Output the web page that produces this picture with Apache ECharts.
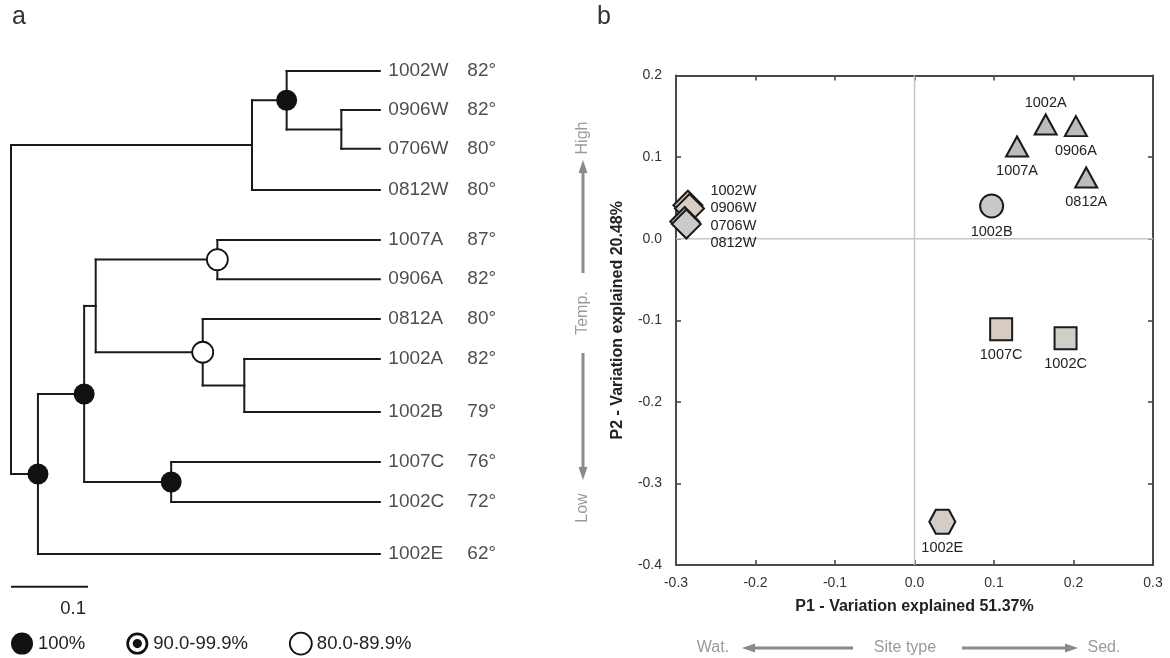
<!DOCTYPE html>
<html>
<head>
<meta charset="utf-8">
<script src="https://cdn.jsdelivr.net/npm/echarts@6/dist/echarts.min.js"></script>
<style>
html,body{margin:0;padding:0;background:#fff;}
#chart{width:1170px;height:658px;}
</style>
</head>
<body>
<div id="chart"></div>
<script>
// ---------- Panel a: tree data ----------
const leafNames = ['1002W','0906W','0706W','0812W','1007A','0906A','0812A','1002A','1002B','1007C','1002C','1002E'];
const leafTemps = ['82°','82°','80°','80°','87°','82°','80°','82°','79°','76°','72°','62°'];
const leafRows  = [0, 0.99, 1.97, 3.01, 4.28, 5.27, 6.28, 7.29, 8.63, 9.9, 10.91, 12.23];
const tipDepth = 0.479;
const nodeNames    = ['root','W','W1','W2','B','AC','A','A1','A2','A3','C'];
const nodeDepths   = [0, 0.313, 0.358, 0.429, 0.035, 0.095, 0.110, 0.268, 0.249, 0.303, 0.208];
const nodeChildren = [['W','B'],['W1','0812W'],['1002W','W2'],['0906W','0706W'],['AC','1002E'],['A','C'],['A1','A2'],['1007A','0906A'],['0812A','A3'],['1002A','1002B'],['1007C','1002C']];
const nodeSupport  = ['','','100%','','100%','100%','','80.0-89.9%','80.0-89.9%','','100%'];
const supportClasses = ['100%','90.0-99.9%','80.0-89.9%'];
const scaleBarLength = 0.1;
const scaleBarLabel = '0.1';

// ---------- Panel b: PCA data ----------
const pcaNames = ['1002W','0906W','0706W','0812W','1007A','1002A','0906A','0812A','1002B','1007C','1002C','1002E'];
const pcaP1    = [-0.285,-0.283,-0.289,-0.287, 0.129, 0.165, 0.203, 0.216, 0.097, 0.109, 0.190, 0.035];
const pcaP2    = [ 0.041, 0.037, 0.021, 0.018, 0.113, 0.140, 0.138, 0.075, 0.040,-0.111,-0.122,-0.347];
const pcaSite  = ['W','W','W','W','A','A','A','A','B','C','C','E'];
const xTicks = [-0.3,-0.2,-0.1,0,0.1,0.2,0.3];
const yTicks = [-0.4,-0.3,-0.2,-0.1,0,0.1,0.2];
const xTitle = 'P1 - Variation explained 51.37%';
const yTitle = 'P2 - Variation explained 20.48%';

// ---------- styles ----------
const FONT = '"Liberation Sans", Arial, Helvetica, sans-serif';
const INK = '#1a1a1a';
const hexPath = 'path://M-1,0 L-0.5,-0.866 L0.5,-0.866 L1,0 L0.5,0.866 L-0.5,0.866 Z';
const bullseye = 'path://M0,-10 A10,10 0 1,1 0,10 A10,10 0 1,1 0,-10 Z M0,-7.6 A7.6,7.6 0 1,0 0,7.6 A7.6,7.6 0 1,0 0,-7.6 Z M0,-4.2 A4.2,4.2 0 1,1 0,4.2 A4.2,4.2 0 1,1 0,-4.2 Z';
const siteStyle = {
  W: {symbol:'diamond', size:[29,29]},
  A: {symbol:'triangle', size:[22,20]},
  B: {symbol:'circle', size:23},
  C: {symbol:'rect', size:22},
  E: {symbol:hexPath, size:[26,24]}
};
const fillByName = {
  '1002W':'#d8cec5','0906W':'#d8cec5','0706W':'#cacaca','0812W':'#cacaca',
  '1007A':'#bcbcbc','1002A':'#bcbcbc','0906A':'#bcbcbc','0812A':'#bcbcbc',
  '1002B':'#c9c9c9','1007C':'#d6ccc4','1002C':'#cfcfc8','1002E':'#d3ccc7'
};

// ---------- tree layout from data ----------
const depthOf = {}, rowOf = {};
leafNames.forEach((n,i)=>{depthOf[n]=tipDepth; rowOf[n]=leafRows[i];});
nodeNames.forEach((n,i)=>{depthOf[n]=nodeDepths[i];});
function rowFor(name){
  if (rowOf[name] !== undefined) return rowOf[name];
  const idx = nodeNames.indexOf(name);
  const ch = nodeChildren[idx];
  const r = (rowFor(ch[0]) + rowFor(ch[ch.length-1]))/2;
  rowOf[name] = r;
  return r;
}
nodeNames.forEach(rowFor);
const segments = [];
nodeNames.forEach((n,i)=>{
  const ch = nodeChildren[i];
  segments.push([depthOf[n], rowOf[ch[0]], depthOf[n], rowOf[ch[ch.length-1]]]);
  ch.forEach(c=>segments.push([depthOf[n], rowOf[c], depthOf[c], rowOf[c]]));
});
function nodesFor(cls){
  const out=[];
  nodeNames.forEach((n,i)=>{ if(nodeSupport[i]===cls) out.push([depthOf[n], rowOf[n]]); });
  return out;
}

// ---------- PCA data items ----------
const wGroupLabel = pcaNames.filter((n,i)=>pcaSite[i]==='W').join('\n');
const pcaData = pcaNames.map((n,i)=>{
  const s = siteStyle[pcaSite[i]];
  const item = {
    name:n, value:[pcaP1[i], pcaP2[i]],
    symbol:s.symbol, symbolSize:s.size,
    itemStyle:{color:fillByName[n], borderColor:INK, borderWidth:2, opacity:1}
  };
  if (pcaSite[i]==='W'){
    if (n===pcaNames[0]) item.label = {show:true, position:'right', distance:7, offset:[0,12], formatter:wGroupLabel, lineHeight:17.5};
    else item.label = {show:false};
  }
  if (n==='1002A') item.label = {show:true, position:'top', distance:3};
  return item;
});

const axisLineStyle = {color:'#4a4a4a', width:2};
const tickStyle = {inside:true, length:5, lineStyle:{color:'#4a4a4a', width:1.6}};
const fmt = v => (Math.round(v*10)/10).toFixed(1);

const chart = echarts.init(document.getElementById('chart'), null, {renderer:'canvas'});
const option = {
  animation:false,
  backgroundColor:'#ffffff',
  textStyle:{fontFamily:FONT},
  grid:[
    {left:11, top:71, width:385, height:13.1*39.5},
    {left:676, top:75.5, width:477, height:489.5}
  ],
  xAxis:[
    {gridIndex:0, type:'value', min:0, max:0.5, show:false},
    {gridIndex:1, type:'value', min:xTicks[0], max:xTicks[xTicks.length-1], interval:0.1, position:'bottom',
     axisLine:{show:true, onZero:false, lineStyle:axisLineStyle}, axisTick:tickStyle, splitLine:{show:false},
     axisLabel:{formatter:fmt, fontSize:14, color:'#333', margin:11, fontFamily:FONT},
     name:xTitle, nameLocation:'middle', nameGap:34,
     nameTextStyle:{fontSize:16, fontWeight:'bold', color:'#222', fontFamily:FONT}},
    {gridIndex:1, type:'value', min:xTicks[0], max:xTicks[xTicks.length-1], interval:0.1, position:'top',
     axisLine:{show:true, onZero:false, lineStyle:axisLineStyle}, axisTick:tickStyle, splitLine:{show:false},
     axisLabel:{show:false}}
  ],
  yAxis:[
    {gridIndex:0, type:'value', min:0, max:13.1, inverse:true, show:false},
    {gridIndex:1, type:'value', min:yTicks[0], max:yTicks[yTicks.length-1], interval:0.1, position:'left',
     axisLine:{show:true, onZero:false, lineStyle:axisLineStyle}, axisTick:tickStyle, splitLine:{show:false},
     axisLabel:{formatter:fmt, fontSize:14, color:'#333', margin:14, fontFamily:FONT},
     name:yTitle, nameLocation:'middle', nameGap:50, nameRotate:90,
     nameTextStyle:{fontSize:16, fontWeight:'bold', color:'#222', fontFamily:FONT}},
    {gridIndex:1, type:'value', min:yTicks[0], max:yTicks[yTicks.length-1], interval:0.1, position:'right',
     axisLine:{show:true, onZero:false, lineStyle:axisLineStyle}, axisTick:tickStyle, splitLine:{show:false},
     axisLabel:{show:false}}
  ],
  legend:{
    left:11, top:631.7, padding:0, itemWidth:22, itemHeight:22, itemGap:41, selectedMode:false,
    textStyle:{fontSize:18.5, color:'#222', fontFamily:FONT},
    data:[
      {name:supportClasses[0], icon:'circle', itemStyle:{color:'#111', opacity:1}},
      {name:supportClasses[1], icon:bullseye, itemStyle:{color:'#111', opacity:1}},
      {name:supportClasses[2], icon:'circle', itemStyle:{color:'#fff', borderColor:'#111', borderWidth:1.8, opacity:1}}
    ]
  },
  series:[
    {type:'custom', name:'branches', xAxisIndex:0, yAxisIndex:0, data:segments, silent:true, z:2,
     renderItem:function(params, api){
       const p1 = api.coord([api.value(0), api.value(1)]);
       const p2 = api.coord([api.value(2), api.value(3)]);
       return {type:'line', shape:{x1:p1[0], y1:p1[1], x2:p2[0], y2:p2[1]},
               style:{stroke:INK, lineWidth:2, lineCap:'square'}};
     }},
    {type:'scatter', name:supportClasses[0], xAxisIndex:0, yAxisIndex:0, data:nodesFor(supportClasses[0]),
     symbol:'circle', symbolSize:21, itemStyle:{color:'#111', opacity:1}, z:5},
    {type:'scatter', name:supportClasses[1], xAxisIndex:0, yAxisIndex:0, data:nodesFor(supportClasses[1]),
     symbol:bullseye, symbolSize:21, itemStyle:{color:'#111', opacity:1}, z:5},
    {type:'scatter', name:supportClasses[2], xAxisIndex:0, yAxisIndex:0, data:nodesFor(supportClasses[2]),
     symbol:'circle', symbolSize:21, itemStyle:{color:'#fff', borderColor:'#111', borderWidth:1.8, opacity:1}, z:5},
    {type:'scatter', name:'leaves', xAxisIndex:0, yAxisIndex:0, silent:true,
     data:leafNames.map((n,i)=>({name:n, value:[tipDepth, leafRows[i]]})),
     symbolSize:1, itemStyle:{color:'rgba(0,0,0,0)'},
     label:{show:true, position:'right', distance:8,
       formatter:p=>'{n|'+p.name+'}{t|'+leafTemps[p.dataIndex]+'}',
       rich:{n:{width:79, fontSize:19, color:'#222', fontFamily:FONT}, t:{fontSize:19, color:'#222', fontFamily:FONT}}}},
    {type:'custom', name:'scalebar', xAxisIndex:0, yAxisIndex:0, silent:true, clip:false,
     data:[[0, scaleBarLength, 13.06]],
     renderItem:function(params, api){
       const a = api.coord([api.value(0), api.value(2)]);
       const b = api.coord([api.value(1), api.value(2)]);
       return {type:'group', children:[
         {type:'line', shape:{x1:a[0], y1:a[1], x2:b[0], y2:b[1]}, style:{stroke:INK, lineWidth:2}},
         {type:'text', x:b[0]-2, y:b[1]+13, style:{text:scaleBarLabel, align:'right', verticalAlign:'top', fontSize:18.5, fill:'#222', fontFamily:FONT}}
       ]};
     }},
    {type:'custom', name:'zero', xAxisIndex:1, yAxisIndex:1, silent:true, z:1,
     data:[[xTicks[0],0,xTicks[xTicks.length-1],0],[0,yTicks[0],0,yTicks[yTicks.length-1]]],
     renderItem:function(params, api){
       const p1 = api.coord([api.value(0), api.value(1)]);
       const p2 = api.coord([api.value(2), api.value(3)]);
       return {type:'line', shape:{x1:p1[0], y1:p1[1], x2:p2[0], y2:p2[1]}, style:{stroke:'#c6c6c6', lineWidth:1.5}};
     }},
    {type:'scatter', name:'PCA', xAxisIndex:1, yAxisIndex:1, data:pcaData, z:3,
     label:{show:true, position:'bottom', distance:6, formatter:'{b}', fontSize:14.5, color:'#222', fontFamily:FONT}}
  ],
  graphic:[
    {type:'text', x:12, y:5, style:{text:'a', fontSize:25, fill:'#333', fontFamily:FONT}},
    {type:'text', x:597, y:5, style:{text:'b', fontSize:25, fill:'#333', fontFamily:FONT}},
    {type:'text', x:583, y:138, rotation:Math.PI/2, style:{text:'High', align:'center', verticalAlign:'middle', fontSize:16, fill:'#9a9a9a', fontFamily:FONT}},
    {type:'line', shape:{x1:583, y1:273, x2:583, y2:170}, style:{stroke:'#8a8a8a', lineWidth:3}},
    {type:'polygon', shape:{points:[[583,160],[578.5,173],[587.5,173]]}, style:{fill:'#8a8a8a'}},
    {type:'text', x:583, y:313, rotation:Math.PI/2, style:{text:'Temp.', align:'center', verticalAlign:'middle', fontSize:16, fill:'#9a9a9a', fontFamily:FONT}},
    {type:'line', shape:{x1:583, y1:353, x2:583, y2:470}, style:{stroke:'#8a8a8a', lineWidth:3}},
    {type:'polygon', shape:{points:[[583,480],[578.5,467],[587.5,467]]}, style:{fill:'#8a8a8a'}},
    {type:'text', x:583, y:508, rotation:Math.PI/2, style:{text:'Low', align:'center', verticalAlign:'middle', fontSize:16, fill:'#9a9a9a', fontFamily:FONT}},
    {type:'text', x:713, y:648, style:{text:'Wat.', align:'center', verticalAlign:'middle', fontSize:16, fill:'#9a9a9a', fontFamily:FONT}},
    {type:'line', shape:{x1:753, y1:648, x2:853, y2:648}, style:{stroke:'#8a8a8a', lineWidth:3}},
    {type:'polygon', shape:{points:[[742,648],[755,643.5],[755,652.5]]}, style:{fill:'#8a8a8a'}},
    {type:'text', x:905, y:648, style:{text:'Site type', align:'center', verticalAlign:'middle', fontSize:16, fill:'#9a9a9a', fontFamily:FONT}},
    {type:'line', shape:{x1:962, y1:648, x2:1066, y2:648}, style:{stroke:'#8a8a8a', lineWidth:3}},
    {type:'polygon', shape:{points:[[1078,648],[1065,643.5],[1065,652.5]]}, style:{fill:'#8a8a8a'}},
    {type:'text', x:1104, y:648, style:{text:'Sed.', align:'center', verticalAlign:'middle', fontSize:16, fill:'#9a9a9a', fontFamily:FONT}}
  ]
};
chart.setOption(option);
</script>
</body>
</html>
